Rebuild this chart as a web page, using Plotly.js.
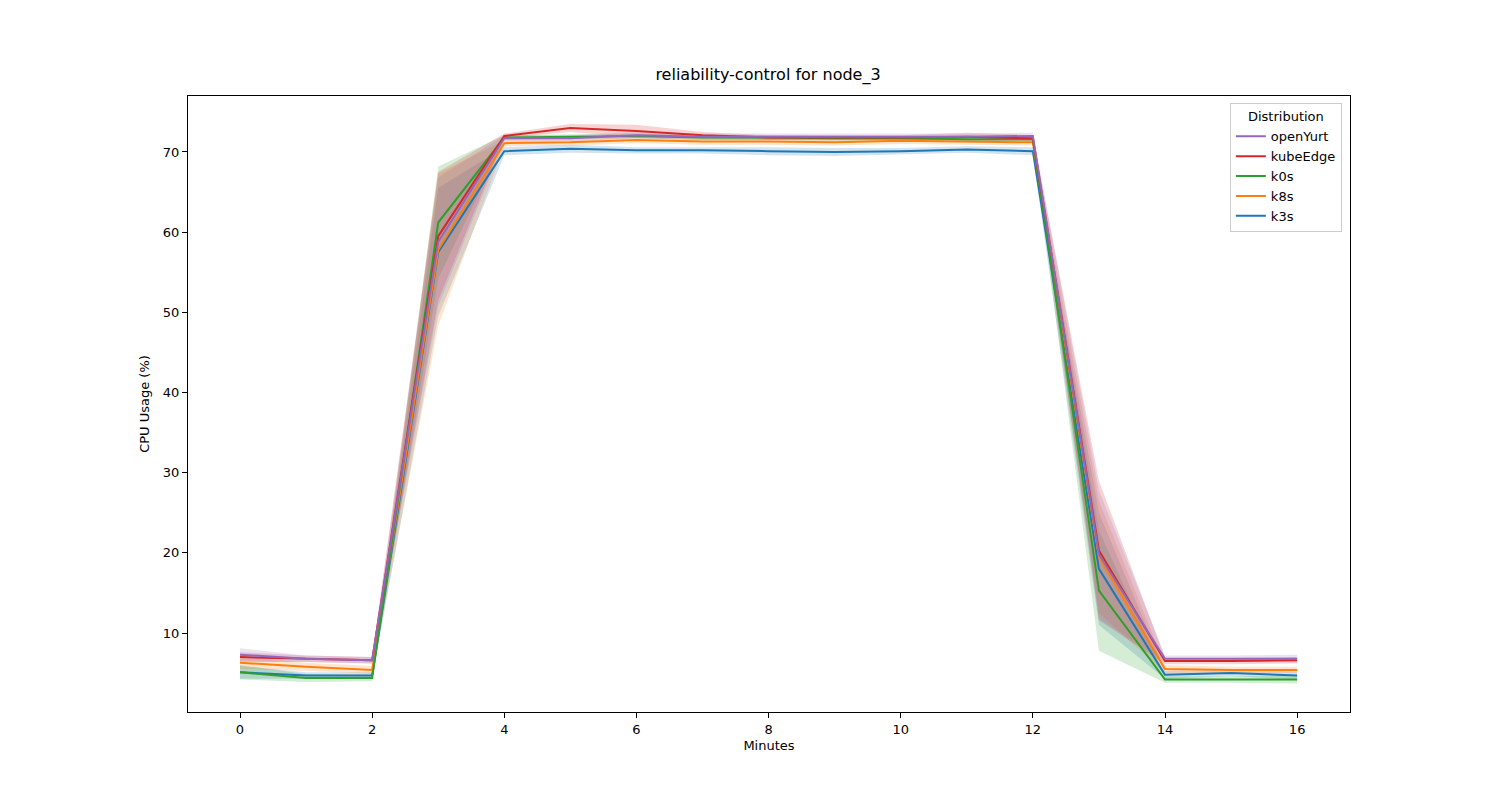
<!DOCTYPE html>
<html>
<head>
<meta charset="utf-8">
<script src="https://cdn.plot.ly/plotly-3.0.1.min.js"></script>
<style>body{margin:0;background:#fff}</style>
</head>
<body>
<div id="chart" style="width:1500px;height:800px"></div>
<script>
var minutes = [0,1,2,3,4,5,6,7,8,9,10,11,12,13,14,15,16];
var names = ['k3s','k8s','k0s','kubeEdge','openYurt'];
var colors = ['#1f77b4','#ff7f0e','#2ca02c','#d62728','#9467bd'];

var k3s      = [5.1,4.7,4.7,57.5,70.1,70.4,70.2,70.2,70.1,70.0,70.1,70.3,70.1,18.0,4.8,5.0,4.7];
var k8s      = [6.3,5.8,5.4,57.8,71.1,71.2,71.5,71.3,71.3,71.2,71.4,71.3,71.2,19.5,5.5,5.4,5.4];
var k0s      = [5.1,4.4,4.4,61.2,71.8,71.9,72.0,71.8,71.8,71.7,71.7,71.6,71.6,15.3,4.2,4.2,4.2];
var kubeEdge = [7.0,6.8,6.6,59.5,72.0,73.0,72.6,72.1,71.8,71.8,71.8,71.9,71.7,20.3,6.5,6.5,6.6];
var openYurt = [7.3,6.8,6.6,58.8,71.7,71.7,72.1,71.9,71.9,71.9,71.9,71.9,72.0,19.8,6.8,6.8,6.8];

// half-width of the shaded band
var k3sSpread      = [0.8,0.4,0.4,8.0,0.5,0.5,0.4,0.4,0.5,0.5,0.4,0.4,0.5,7.0,0.5,0.4,0.5];
var k8sSpread      = [0.8,0.5,0.5,9.5,0.4,0.4,0.4,0.4,0.4,0.4,0.4,0.4,0.4,7.0,0.5,0.4,0.4];
var k0sSpread      = [0.9,0.5,0.4,7.0,0.3,0.3,0.3,0.3,0.3,0.3,0.3,0.3,0.3,7.5,0.4,0.4,0.5];
var kubeEdgeSpread = [0.6,0.4,0.4,8.0,0.3,0.5,0.8,0.4,0.3,0.3,0.3,0.5,0.4,8.7,0.4,0.4,0.4];
var openYurtSpread = [0.8,0.4,0.4,8.0,0.4,0.4,0.4,0.4,0.4,0.4,0.4,0.4,0.4,8.0,0.4,0.4,0.5];

var series = [k3s,k8s,k0s,kubeEdge,openYurt];
var spreads = [k3sSpread,k8sSpread,k0sSpread,kubeEdgeSpread,openYurtSpread];

function rgba(hex,a){
    var n = parseInt(hex.slice(1),16);
    return 'rgba('+(n>>16)+','+((n>>8)&255)+','+(n&255)+','+a+')';
}

var data = [];
for(var i = 0; i < series.length; i++){
    var lo = [], hi = [];
    for(var j = 0; j < minutes.length; j++){
        lo.push(series[i][j] - spreads[i][j]);
        hi.push(series[i][j] + spreads[i][j]);
    }
    data.push({x: minutes, y: lo, mode: 'lines', line: {width: 0}, showlegend: false, hoverinfo: 'skip', type: 'scatter'});
    data.push({x: minutes, y: hi, mode: 'lines', line: {width: 0}, fill: 'tonexty',
        fillcolor: rgba(colors[i],0.2), showlegend: false, hoverinfo: 'skip', type: 'scatter'});
}
for(var i = 0; i < series.length; i++){
    data.push({x: minutes, y: series[i], name: names[i], mode: 'lines',
        line: {color: colors[i], width: 2}, type: 'scatter'});
}

var axisStyle = {
    showgrid: false, zeroline: false, showline: true, mirror: true,
    linecolor: 'black', linewidth: 1, ticks: 'outside', ticklen: 5,
    tickcolor: 'black', tickfont: {size: 13, color: 'black'}
};

var layout = {
    width: 1500, height: 800,
    margin: {l: 188, r: 150, t: 96, b: 88},
    paper_bgcolor: 'white', plot_bgcolor: 'white',
    font: {family: 'DejaVu Sans', color: 'black'},
    title: {text: 'reliability-control for node_3', font: {size: 16}, x: 0.512, xanchor: 'center', y: 0.9, yanchor: 'bottom'},
    xaxis: Object.assign({}, axisStyle, {range: [-0.787, 16.8], tickvals: [0,2,4,6,8,10,12,14,16],
        title: {text: 'Minutes', font: {size: 13}, standoff: 5}}),
    yaxis: Object.assign({}, axisStyle, {range: [0.15, 76.98], tickvals: [10,20,30,40,50,60,70],
        title: {text: 'CPU Usage (%)', font: {size: 13}, standoff: 10}}),
    legend: {x: 0.993, y: 0.988, xanchor: 'right', yanchor: 'top', bordercolor: '#ccc', borderwidth: 1,
        bgcolor: 'rgba(255,255,255,0.8)', font: {size: 13},
        title: {text: 'Distribution', font: {size: 13}, side: 'top center'}},
    showlegend: true
};

Plotly.newPlot('chart', data, layout, {displayModeBar: false});
</script>
</body>
</html>
